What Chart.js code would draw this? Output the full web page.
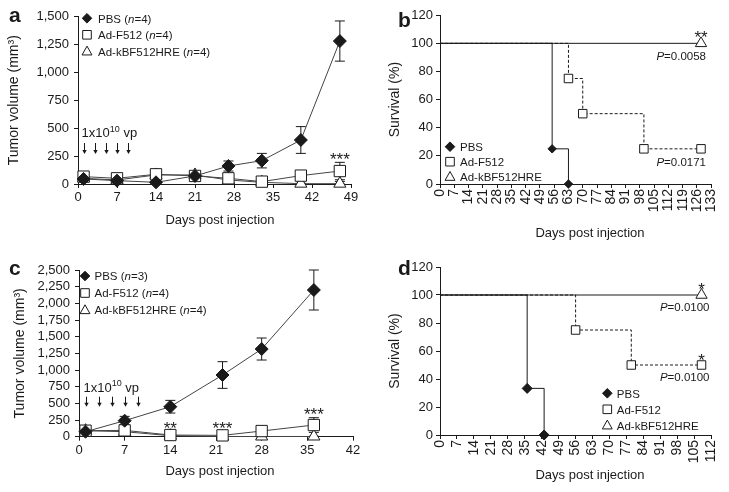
<!DOCTYPE html>
<html>
<head>
<meta charset="utf-8">
<script src="https://cdn.jsdelivr.net/npm/chart.js@4.4.1/dist/chart.umd.min.js"></script>
<style>
  html, body { margin: 0; padding: 0; background: #fff; }
  body { width: 729px; height: 492px; position: relative; overflow: hidden; }
  canvas { position: absolute; }
</style>
</head>
<body>
<canvas id="ca" width="365" height="240" style="left:0;top:0"></canvas>
<canvas id="cb" width="364" height="240" style="left:365px;top:0"></canvas>
<canvas id="cc" width="365" height="252" style="left:0;top:240px"></canvas>
<canvas id="cd" width="364" height="252" style="left:365px;top:240px"></canvas>
<script>
// ---------------- DATA ----------------
const seriesNames = ['PBS', 'Ad-F512', 'Ad-kBF512HRE'];
const nA = [4, 4, 4];
const nC = [3, 4, 4];

// Panel a: tumor volume (mm3)
const daysA = [1, 7, 14, 21, 27, 33, 40, 47];
const pbsA = [45, 30, 15, 72, 161, 209, 394, 1280];
const pbsErrA = [12, 10, 6, 12, 45, 65, 120, 180];
const f512A = [66, 51, 87, 72, 51, 21, 75, 116];
const f512ErrA = [18, 12, 15, 12, 25, 8, 15, 78];
const hreA = [51, 36, 81, 81, 36, 15, 3, 3];
const hreErrA = [12, 10, 12, 12, 10, 6, 3, 20];
const doseDaysA = [1, 3, 5, 7, 9];
const xTicksA = [0, 7, 14, 21, 28, 35, 42, 49];
const yTicksA = [0, 250, 500, 750, 1000, 1250, 1500];

// Panel b: survival (%)
const pbsDaysB = [0, 55, 63];
const pbsSurvB = [100, 25, 0];
const f512DaysB = [0, 63, 70, 100, 128];
const f512SurvB = [100, 75, 50, 25, 25];
const hreDaysB = [0, 128];
const hreSurvB = [100, 100];
const pValsB = ['0.0058', '0.0171'];
const xTicksB = [0, 7, 14, 21, 28, 35, 42, 49, 56, 63, 70, 77, 84, 91, 98, 105, 112, 119, 126, 133];
const yTicksSurv = [0, 20, 40, 60, 80, 100, 120];

// Panel c: tumor volume (mm3)
const daysC = [1, 7, 14, 22, 28, 36];
const pbsC = [75, 240, 450, 925, 1315, 2200];
const pbsErrC = [20, 65, 95, 200, 165, 300];
const f512C = [90, 95, 25, 20, 85, 175];
const f512ErrC = [20, 25, 15, 10, 15, 110];
const hreC = [90, 75, 15, 3, 3, 3];
const hreErrC = [20, 15, 10, 3, 3, 3];
const doseDaysC = [1, 3, 5, 7, 9];
const xTicksC = [0, 7, 14, 21, 28, 35, 42];
const yTicksC = [0, 250, 500, 750, 1000, 1250, 1500, 1750, 2000, 2250, 2500];

// Panel d: survival (%)
const pbsDaysD = [0, 36, 43];
const pbsSurvD = [100, 33.3, 0];
const f512DaysD = [0, 56, 79, 108];
const f512SurvD = [100, 75, 50, 50];
const hreDaysD = [0, 108];
const hreSurvD = [100, 100];
const pValsD = ['0.0100', '0.0100'];
const xTicksD = [0, 7, 14, 21, 28, 35, 42, 49, 56, 63, 70, 77, 84, 91, 98, 105, 112];

// ---------------- STYLE / HELPERS ----------------
const FONT = '"Liberation Sans", Arial, Helvetica, sans-serif';
const INK = '#1a1a1a';
const LINE = '#444444';
Chart.defaults.font.family = FONT;
Chart.defaults.color = INK;

const kinds = [
  { style: 'rectRot', fill: INK, r: 6.5, lr: 4.8 },
  { style: 'rect', fill: '#ffffff', r: 8, lr: 4.3 },
  { style: 'triangle', fill: '#ffffff', r: 7, lr: 5.2 }
];

function xy(xs, ys) { return xs.map((x, i) => ({ x: x, y: ys[i] })); }
function tickList(list) { return s => { s.ticks = list.map(v => ({ value: v })); }; }

function lineSet(k, xs, ys, errs, r) {
  const st = kinds[k];
  return {
    label: seriesNames[k], data: xy(xs, ys), errors: errs,
    borderColor: LINE, borderWidth: 1, tension: 0, fill: false, clip: false,
    pointStyle: st.style, pointBackgroundColor: st.fill, pointBorderColor: INK,
    pointBorderWidth: 1, pointRadius: r || st.r, pointHoverRadius: r || st.r
  };
}
function survSet(k, xs, ys, r, dashed) {
  const st = kinds[k];
  return {
    label: seriesNames[k], data: xy(xs, ys), stepped: true,
    borderColor: INK, borderWidth: 1, borderDash: dashed ? [3, 2] : [], fill: false, clip: false,
    pointStyle: st.style, pointBackgroundColor: st.fill, pointBorderColor: INK, pointBorderWidth: 1,
    pointRadius: c => (c.dataIndex === 0 ? 0 : r), pointHoverRadius: c => (c.dataIndex === 0 ? 0 : r)
  };
}

function axisX(ticks, h, rotate) {
  return {
    type: 'linear', min: ticks[0], max: ticks[ticks.length - 1],
    afterBuildTicks: tickList(ticks), afterFit: s => { s.height = h; },
    border: { display: true, color: INK, width: 1 },
    grid: { display: true, drawOnChartArea: false, drawTicks: true, tickLength: 4, color: INK, lineWidth: 1 },
    ticks: { autoSkip: false, minRotation: rotate ? 90 : 0, maxRotation: rotate ? 90 : 0,
      padding: rotate ? 1 : 2, font: { size: rotate ? 14 : 13 }, color: INK,
      callback: v => v.toLocaleString('en-US') },
    title: { display: false }
  };
}
function axisY(ticks, w, title, titlePad, labelPad) {
  return {
    type: 'linear', min: ticks[0], max: ticks[ticks.length - 1],
    afterBuildTicks: tickList(ticks), afterFit: s => { s.width = w; },
    border: { display: true, color: INK, width: 1 },
    grid: { display: true, drawOnChartArea: false, drawTicks: true, tickLength: 4, color: INK, lineWidth: 1 },
    ticks: { autoSkip: false, padding: labelPad, font: { size: 13 }, color: INK, callback: v => v.toLocaleString('en-US') },
    title: { display: true, text: title, font: { size: 14 }, color: INK, padding: { top: titlePad, bottom: 0 } }
  };
}

function rich(ctx, segs, x, y, size, align) {
  const f = s => (s.italic ? 'italic ' : '') + (s.sup ? Math.round(size * 0.68) : size) + 'px ' + FONT;
  let w = 0;
  segs.forEach(s => { ctx.font = f(s); s.w = ctx.measureText(s.t).width; w += s.w; });
  let cx = align === 'right' ? x - w : align === 'center' ? x - w / 2 : x;
  ctx.textAlign = 'left'; ctx.textBaseline = 'alphabetic'; ctx.fillStyle = INK;
  segs.forEach(s => { ctx.font = f(s); ctx.fillText(s.t, cx, s.sup ? y - size * 0.42 : y); cx += s.w; });
}

function marker(ctx, k, x, y, r) {
  const st = kinds[k];
  ctx.save();
  ctx.beginPath();
  if (st.style === 'rectRot') {
    ctx.moveTo(x, y - r); ctx.lineTo(x + r, y); ctx.lineTo(x, y + r); ctx.lineTo(x - r, y); ctx.closePath();
  } else if (st.style === 'rect') {
    ctx.rect(x - r, y - r, 2 * r, 2 * r);
  } else {
    ctx.moveTo(x, y - r); ctx.lineTo(x + r * 0.95, y + r * 0.7); ctx.lineTo(x - r * 0.95, y + r * 0.7); ctx.closePath();
  }
  ctx.fillStyle = st.fill; ctx.fill();
  ctx.strokeStyle = INK; ctx.lineWidth = 1; ctx.stroke();
  ctx.restore();
}

// decorations per canvas (legend, stars, p-values, dose arrows, titles, panel letters)
const notes = {};
const deco = {
  id: 'deco',
  beforeDatasetsDraw(chart) {
    const ctx = chart.ctx, xs = chart.scales.x, ys = chart.scales.y;
    ctx.save(); ctx.strokeStyle = INK; ctx.lineWidth = 1;
    chart.data.datasets.forEach(d => {
      if (!d.errors) return;
      d.data.forEach((p, i) => {
        const e = d.errors[i]; if (!e) return;
        const x = xs.getPixelForValue(p.x);
        const y1 = ys.getPixelForValue(p.y + e), y2 = ys.getPixelForValue(Math.max(p.y - e, 0));
        ctx.beginPath();
        ctx.moveTo(x, y1); ctx.lineTo(x, y2);
        ctx.moveTo(x - 5, y1); ctx.lineTo(x + 5, y1);
        ctx.moveTo(x - 5, y2); ctx.lineTo(x + 5, y2);
        ctx.stroke();
      });
    });
    ctx.restore();
  },
  afterDraw(chart) {
    const cfg = notes[chart.canvas.id]; if (!cfg) return;
    const ctx = chart.ctx, xs = chart.scales.x, ys = chart.scales.y, ca = chart.chartArea;
    ctx.save();
    // panel letter
    ctx.fillStyle = INK; ctx.textAlign = 'left'; ctx.textBaseline = 'alphabetic';
    ctx.font = 'bold 21px ' + FONT;
    ctx.fillText(cfg.letter[0], cfg.letter[1], cfg.letter[2]);
    // x title
    ctx.font = '13px ' + FONT; ctx.textAlign = 'center';
    ctx.fillText('Days post injection', cfg.xTitle[0], cfg.xTitle[1]);
    // legend
    const L = cfg.legend;
    L.items.forEach((it, i) => {
      const y = L.y + i * L.dy;
      marker(ctx, i, L.x, y, kinds[i].lr);
      rich(ctx, it, L.x + L.tdx, y + 4.2, L.size, 'left');
    });
    // stars
    (cfg.stars || []).forEach(s => {
      const d = chart.data.datasets[s.ds], p = d.data[s.idx];
      const e = d.errors ? d.errors[s.idx] : 0;
      const cy = ys.getPixelForValue(p.y + e) - s.gap;
      ctx.font = '17px ' + FONT; ctx.textAlign = 'center'; ctx.fillStyle = INK;
      ctx.fillText(s.text, xs.getPixelForValue(p.x), cy + 9.8);
    });
    // p-values
    (cfg.pvals || []).forEach(s => {
      const p = chart.data.datasets[s.ds].data[s.idx];
      rich(ctx, [{ t: 'P', italic: true }, { t: '=' + s.text }],
        xs.getPixelForValue(p.x) + s.dx, ys.getPixelForValue(p.y) + s.dy + 4.2, 11.5, 'right');
    });
    // dose arrows
    if (cfg.dose) {
      const D = cfg.dose;
      rich(ctx, [{ t: '1x10' }, { t: '10', sup: true }, { t: ' vp' }],
        xs.getPixelForValue(D.days[0]) - 2, ca.bottom - D.textUp, 13, 'left');
      ctx.strokeStyle = INK; ctx.fillStyle = INK; ctx.lineWidth = 1;
      D.days.forEach(dd => {
        const x = Math.round(xs.getPixelForValue(dd)) + 0.5;
        const yt = ca.bottom - D.top, yb = ca.bottom - D.bot;
        ctx.beginPath(); ctx.moveTo(x, yt); ctx.lineTo(x, yb - 3); ctx.stroke();
        ctx.beginPath(); ctx.moveTo(x - 2.2, yb - 4); ctx.lineTo(x + 2.2, yb - 4); ctx.lineTo(x, yb); ctx.closePath(); ctx.fill();
      });
    }
    ctx.restore();
  }
};

function legendItems(ns) {
  return seriesNames.map((nm, i) => ns
    ? [{ t: nm + ' (' }, { t: 'n', italic: true }, { t: '=' + ns[i] + ')' }]
    : [{ t: nm }]);
}

notes.ca = {
  letter: ['a', 9, 22], xTitle: [220, 224],
  legend: { x: 87, y: 18.3, dy: 16.5, tdx: 11, size: 11.5, items: legendItems(nA) },
  stars: [{ ds: 1, idx: 7, text: '***', gap: 7 }],
  dose: { days: doseDaysA, textUp: 47, top: 41, bot: 30 }
};
notes.cb = {
  letter: ['b', 33, 27], xTitle: [225, 237],
  legend: { x: 85, y: 146.7, dy: 15, tdx: 10, size: 11.5, items: legendItems(null) },
  stars: [{ ds: 2, idx: 1, text: '**', gap: 10 }],
  pvals: [{ ds: 2, idx: 1, text: pValsB[0], dx: 5, dy: 12 }, { ds: 1, idx: 4, text: pValsB[1], dx: 5, dy: 13 }]
};
notes.cc = {
  letter: ['c', 9, 35], xTitle: [220, 235],
  legend: { x: 85, y: 36, dy: 17, tdx: 9.5, size: 11.5, items: legendItems(nC) },
  stars: [{ ds: 1, idx: 2, text: '**', gap: 10 }, { ds: 1, idx: 3, text: '***', gap: 10 }, { ds: 1, idx: 5, text: '***', gap: 7 }],
  dose: { days: doseDaysC, textUp: 45, top: 40, bot: 30 }
};
notes.cd = {
  letter: ['d', 33, 35], xTitle: [225, 238.5],
  legend: { x: 242.3, y: 153.3, dy: 16, tdx: 9.5, size: 11.5, items: legendItems(null) },
  stars: [{ ds: 2, idx: 1, text: '*', gap: 10 }, { ds: 1, idx: 3, text: '*', gap: 9 }],
  pvals: [{ ds: 2, idx: 1, text: pValsD[0], dx: 8, dy: 12 }, { ds: 1, idx: 3, text: pValsD[1], dx: 8, dy: 12 }]
};

function make(id, datasets, scales, padding) {
  return new Chart(document.getElementById(id), {
    type: 'line',
    data: { datasets: datasets },
    options: {
      responsive: false, maintainAspectRatio: false, devicePixelRatio: 1, animation: false, events: [],
      layout: { padding: padding },
      plugins: { legend: { display: false }, tooltip: { enabled: false } },
      scales: scales
    },
    plugins: [deco]
  });
}

// Panel a
make('ca', [
  lineSet(0, daysA, pbsA, pbsErrA),
  lineSet(1, daysA, f512A, f512ErrA),
  lineSet(2, daysA, hreA, hreErrA)
], {
  x: axisX(xTicksA, 56, false),
  y: axisY(yTicksA, 78, 'Tumor volume (mm³)', 6, 5)
}, { left: 0, top: 16.5, right: 14, bottom: 0 });

// Panel b
make('cb', [
  survSet(0, pbsDaysB, pbsSurvB, 4.2, false),
  survSet(1, f512DaysB, f512SurvB, 6, true),
  survSet(2, hreDaysB, hreSurvB, 6.5, false)
], {
  x: axisX(xTicksB, 56, true),
  y: axisY(yTicksSurv, 75, 'Survival (%)', 22, 3)
}, { left: 0, top: 15.2, right: 16.5, bottom: 0 });

// Panel c
make('cc', [
  lineSet(0, daysC, pbsC, pbsErrC),
  lineSet(1, daysC, f512C, f512ErrC),
  lineSet(2, daysC, hreC, hreErrC)
], {
  x: axisX(xTicksC, 55.3, false),
  y: axisY(yTicksC, 79, 'Tumor volume (mm³)', 12, 5)
}, { left: 0, top: 30, right: 12, bottom: 0 });

// Panel d
make('cd', [
  survSet(0, pbsDaysD, pbsSurvD, 5, false),
  survSet(1, f512DaysD, f512SurvD, 6, true),
  survSet(2, hreDaysD, hreSurvD, 6.5, false)
], {
  x: axisX(xTicksD, 57, true),
  y: axisY(yTicksSurv, 75, 'Survival (%)', 22, 3)
}, { left: 0, top: 27, right: 16.3, bottom: 0 });
</script>
</body>
</html>
